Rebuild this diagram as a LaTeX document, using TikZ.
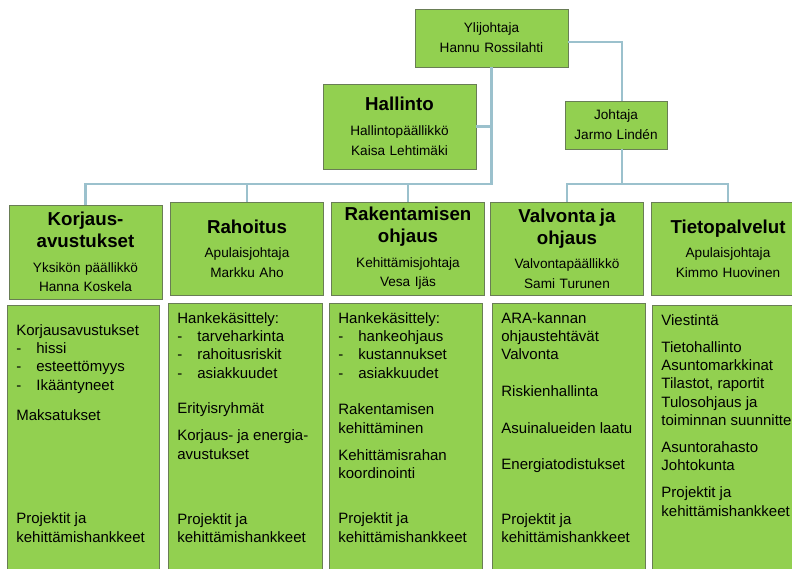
\documentclass[tikz,border=0pt]{standalone}
\usepackage{fontspec}
\setmainfont{Liberation Sans}
\definecolor{boxgreen}{RGB}{146,208,80}
\definecolor{boxline}{RGB}{105,125,85}
\definecolor{linkblue}{RGB}{155,193,205}
\newcommand{\itemdash}{\makebox[20pt][l]{-}}
\newcommand{\unittitle}[1]{{\fontsize{18.7}{22}\selectfont\bfseries #1\par}\vspace{5pt}}
\tikzstyle{boss} = [rectangle, draw=boxline, line width=0.8pt, fill=boxgreen, text width=145pt, align=center, inner sep=0pt, font=\fontsize{13.6}{20}\selectfont]
\tikzstyle{unit} = [rectangle, draw=boxline, line width=0.8pt, fill=boxgreen, minimum width=153pt, minimum height=93pt, text width=148pt, align=center, inner sep=0pt, font=\fontsize{13.6}{19.5}\selectfont]
\tikzstyle{tasks} = [rectangle, draw=boxline, line width=0.8pt, fill=boxgreen, anchor=north west, inner xsep=9pt, inner ysep=9pt, font=\fontsize{15}{18.3}\selectfont]
\tikzstyle{link} = [draw=linkblue, line width=2.5pt]

\begin{document}
\begin{tikzpicture}[x=1pt, y=-1pt]
                 \useasboundingbox (0,0) rectangle (792,568);
                 \clip (0,0) rectangle (792,568);
                 % johto
                 \node [boss, minimum width=153pt, minimum height=58pt] at (491.5,38) (ylijohtaja) {Ylijohtaja\\Hannu Rossilahti};
                 \node [boss, minimum width=153pt, minimum height=85pt] at (399.5,126.5) (hallinto) {\unittitle{Hallinto}Hallintopäällikkö\\Kaisa Lehtimäki};
                 \node [boss, text width=100pt, minimum width=102pt, minimum height=48pt] at (616,125) (johtaja) {Johtaja\\Jarmo Lindén};
                 % yksiköt
                 \node [unit, minimum height=94pt] at (85.5,252) (unit1) {\unittitle{Korjaus-\\avustukset}Yksikön päällikkö\\Hanna Koskela};
                 \node [unit] at (247,248.5) (unit2) {\unittitle{Rahoitus}Apulaisjohtaja\\Markku Aho};
                 \node [unit] at (408,248.5) (unit3) {\unittitle{Rakentamisen\\ohjaus}Kehittämisjohtaja\\Vesa Ijäs};
                 \node [unit] at (567,248.5) (unit4) {\unittitle{Valvonta ja\\ohjaus}Valvontapäällikkö\\Sami Turunen};
                 \node [unit] at (728,248.5) (unit5) {\unittitle{Tietopalvelut}Apulaisjohtaja\\Kimmo Huovinen};
                 % tehtävät
                 \node [tasks] at (7,305) (list1) {\parbox[t][250pt][t]{134pt}{\raggedright\vspace*{10pt}
                   Korjausavustukset\\
                   \itemdash hissi\\
                   \itemdash esteettömyys\\
                   \itemdash Ikääntyneet\\[12pt]
                   Maksatukset\\[85pt]
                   Projektit ja\\
                   kehittämishankkeet}};
                 \node [tasks] at (168,303) (list2) {\parbox[t][250pt][t]{136pt}{\raggedright
                   Hankekäsittely:\\
                   \itemdash tarveharkinta\\
                   \itemdash rahoitusriskit\\
                   \itemdash asiakkuudet\\[17pt]
                   Erityisryhmät\\[9pt]
                   Korjaus- ja energia-\\
                   avustukset\\[47pt]
                   Projektit ja\\
                   kehittämishankkeet}};
                 \node [tasks] at (329,303) (list3) {\parbox[t][250pt][t]{135pt}{\raggedright
                   Hankekäsittely:\\
                   \itemdash hankeohjaus\\
                   \itemdash kustannukset\\
                   \itemdash asiakkuudet\\[18.5pt]
                   Rakentamisen\\
                   kehittäminen\\[8.7pt]
                   Kehittämisrahan\\
                   koordinointi\\[27pt]
                   Projektit ja\\
                   kehittämishankkeet}};
                 \node [tasks] at (492,303) (list4) {\parbox[t][250pt][t]{135pt}{\raggedright
                   ARA-kannan\\
                   ohjaustehtävät\\
                   Valvonta\\[18.5pt]
                   Riskienhallinta\\[18.5pt]
                   Asuinalueiden laatu\\[18pt]
                   Energiatodistukset\\[36.5pt]
                   Projektit ja\\
                   kehittämishankkeet}};
                 \node [tasks] at (652,305) (list5) {\parbox[t][250pt][t]{134pt}{\raggedright
                   Viestintä\\[8.7pt]
                   Tietohallinto\\
                   Asuntomarkkinat\\
                   Tilastot, raportit\\
                   Tulosohjaus ja\\
                   \mbox{toiminnan suunnittelu}\\[8.7pt]
                   Asuntorahasto\\
                   Johtokunta\\[8.7pt]
                   Projektit ja\\
                   kehittämishankkeet}};
                 % yhteydet
                 \coordinate (bus1) at (491.5,184);
                 \coordinate (bus2) at (622,184);
                 \coordinate (turn) at (622,42);
                 \draw [link] (ylijohtaja.south) -- (bus1) -| (unit1.north);
                 \draw [link] (hallinto.east) -- (hallinto.east -| ylijohtaja.south);
                 \draw [link] (bus1 -| unit2.north) -- (unit2.north);
                 \draw [link] (bus1 -| unit3.north) -- (unit3.north);
                 \draw [link] (ylijohtaja.east |- turn) -- (turn) -- (turn |- johtaja.north);
                 \draw [link] (turn |- johtaja.south) -- (bus2);
                 \draw [link] (unit4.north) |- (bus2) -| (unit5.north);
\end{tikzpicture}
\end{document}
